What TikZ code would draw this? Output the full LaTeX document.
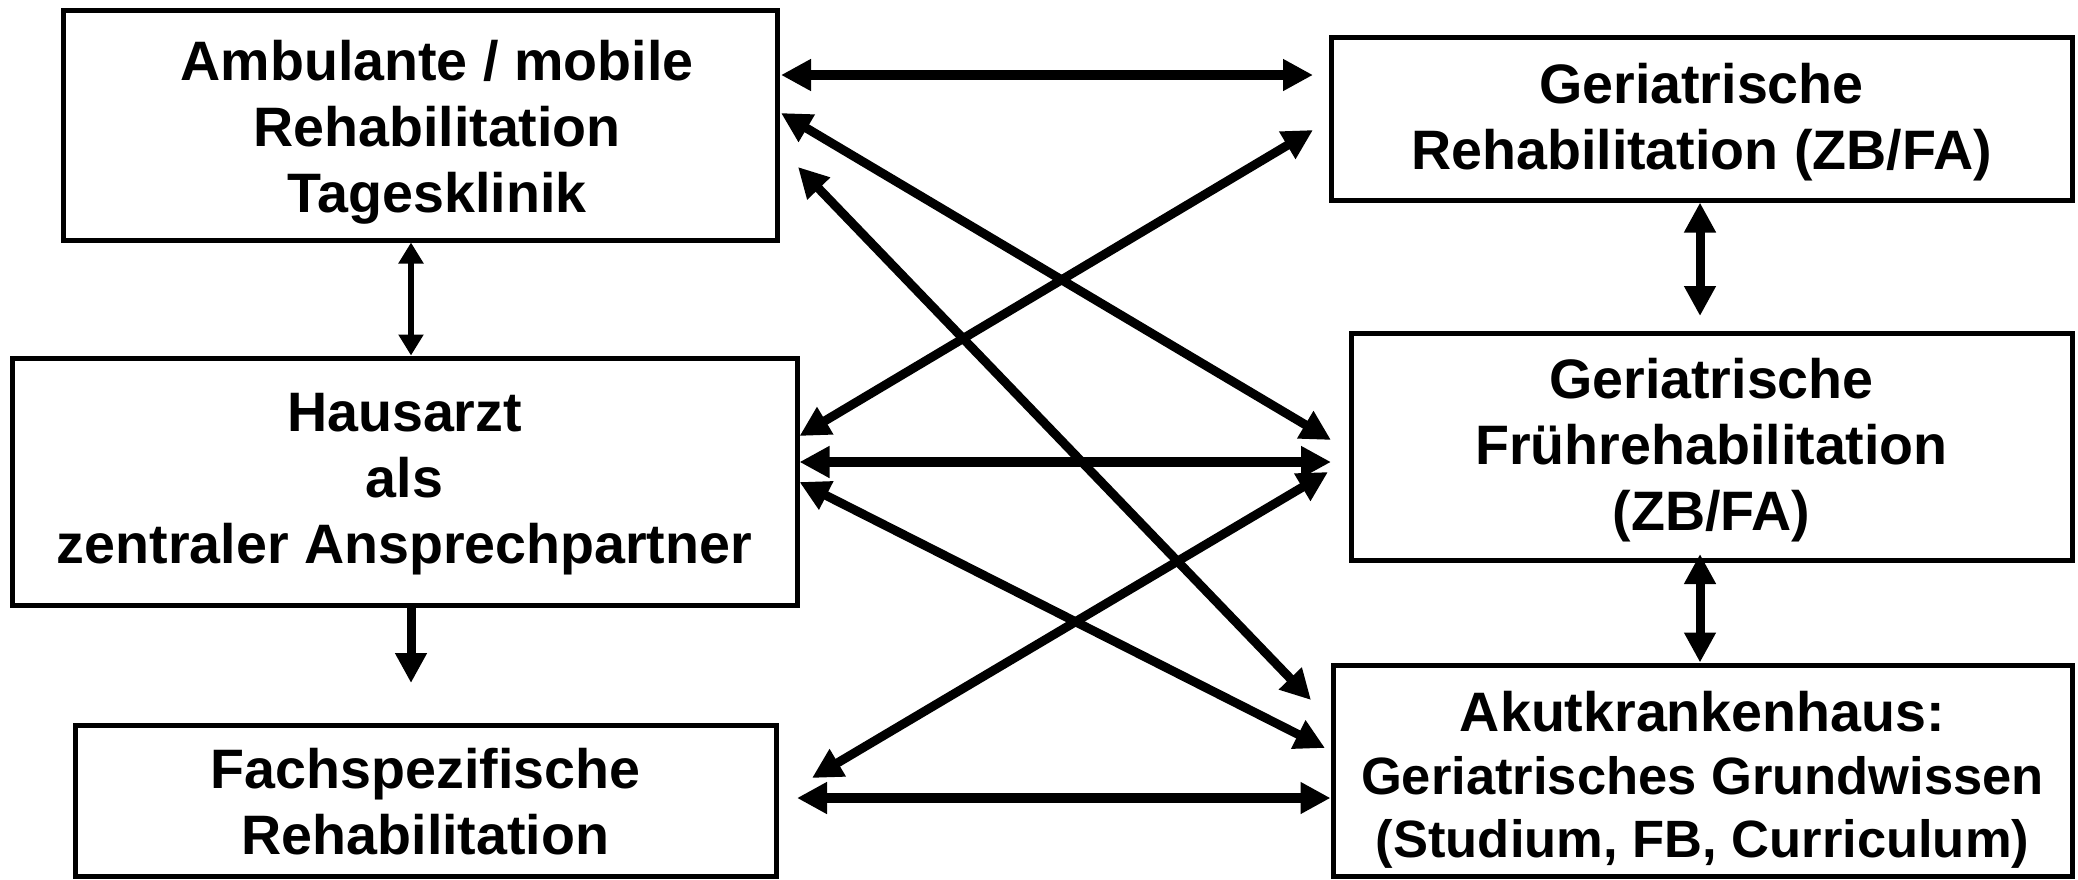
\documentclass[tikz,border=0pt]{standalone}
\usepackage{fontspec}
\setmainfont{Liberation Sans}
\usetikzlibrary{arrows.meta}
\begin{document}
\begin{tikzpicture}[x=1pt,y=-1pt,
  box/.style={draw, line width=5pt, inner sep=0pt},
  txt/.style={inner sep=0pt, align=center,
    font=\fontsize{55.6}{66}\selectfont\bfseries},
  bigtip/.tip={Triangle[length=30pt,width=30pt]},
  smalltip/.tip={Triangle[length=21pt,width=24pt]},
  harr/.style={line width=10pt, bigtip-bigtip},
  darr/.style={line width=9pt, bigtip-bigtip},
  varr/.style={line width=9pt, bigtip-bigtip},
  thinarr/.style={line width=6pt, smalltip-smalltip},
  downarr/.style={line width=9pt, -bigtip}]
\useasboundingbox (0,0) rectangle (2078,879);

\node[box, minimum width=714pt, minimum height=230pt] (A) at (420,125) {};
\node[box, minimum width=785pt, minimum height=247pt] (H) at (404.5,481.5) {};
\node[box, minimum width=701pt, minimum height=151pt] (F) at (425.5,800.5) {};
\node[box, minimum width=741pt, minimum height=163pt] (GR) at (1701.5,118.5) {};
\node[box, minimum width=721pt, minimum height=227pt] (GF) at (1711.5,446.5) {};
\node[box, minimum width=739pt, minimum height=211pt] (AK) at (1702.5,770.5) {};

\node[txt] (At) at ([xshift=17pt,yshift=-7pt]A.center)
  {Ambulante / mobile\\Rehabilitation\\Tagesklinik};
\node[txt] (Ht) at ([yshift=-3pt]H.center)
  {Hausarzt\\als\\zentraler Ansprechpartner};
\node[txt] (Ft) at ([yshift=-1pt]F.center)
  {Fachspezifische\\Rehabilitation};
\node[txt] (GRt) at ([yshift=-4pt]GR.center)
  {Geriatrische\\Rehabilitation (ZB/FA)};
\node[txt] (GFt) at ([yshift=-4pt]GF.center)
  {Geriatrische\\Frührehabilitation\\(ZB/FA)};
\node[txt, font=\fontsize{52.5}{63}\selectfont\bfseries] (AKt) at ([yshift=-9pt]AK.center)
  {{\fontsize{55.6}{63}\selectfont Akutkrankenhaus:}\\Geriatrisches Grundwissen\\(Studium, FB, Curriculum)};

% horizontal / diagonal connectors
\draw[harr] ([xshift=1.5pt]A.east |- 0,75) -- ([xshift=-15.5pt]GR.west |- 0,75);
\draw[darr] ([xshift=1.5pt]A.east |- 0,113) -- ([xshift=-17.5pt]GF.west |- 0,440);
\draw[darr] ([xshift=18.5pt]A.east |- 0,167) -- ([xshift=-19.5pt]AK.west |- 0,700);
\draw[darr] (H.east |- 0,436) -- ([xshift=-15.5pt]GR.west |- 0,130);
\draw[harr] (H.east |- 0,462) -- ([xshift=-17.5pt]GF.west |- 0,462);
\draw[darr] (H.east |- 0,482) -- ([xshift=-5.5pt]AK.west |- 0,748);
\draw[darr] ([xshift=33.5pt]F.east |- 0,778) -- ([xshift=-20.5pt]GF.west |- 0,472);
\draw[harr] ([xshift=18.5pt]F.east |- 0,798) -- (AK.west |- 0,798);

% vertical connectors
\draw[thinarr] ([xshift=-9pt]A.south) -- ([xshift=6.5pt]H.north);
\draw[downarr] ([xshift=6.5pt]H.south) -- ([xshift=-14.5pt,yshift=39.5pt]F.north);
\draw[varr] ([xshift=-1.5pt]GR.south) -- ([xshift=-11.5pt,yshift=14.5pt]GF.north);
\draw[varr] ([xshift=-11.5pt,yshift=8.5pt]GF.south) -- ([xshift=-2.5pt]AK.north);
\end{tikzpicture}
\end{document}
